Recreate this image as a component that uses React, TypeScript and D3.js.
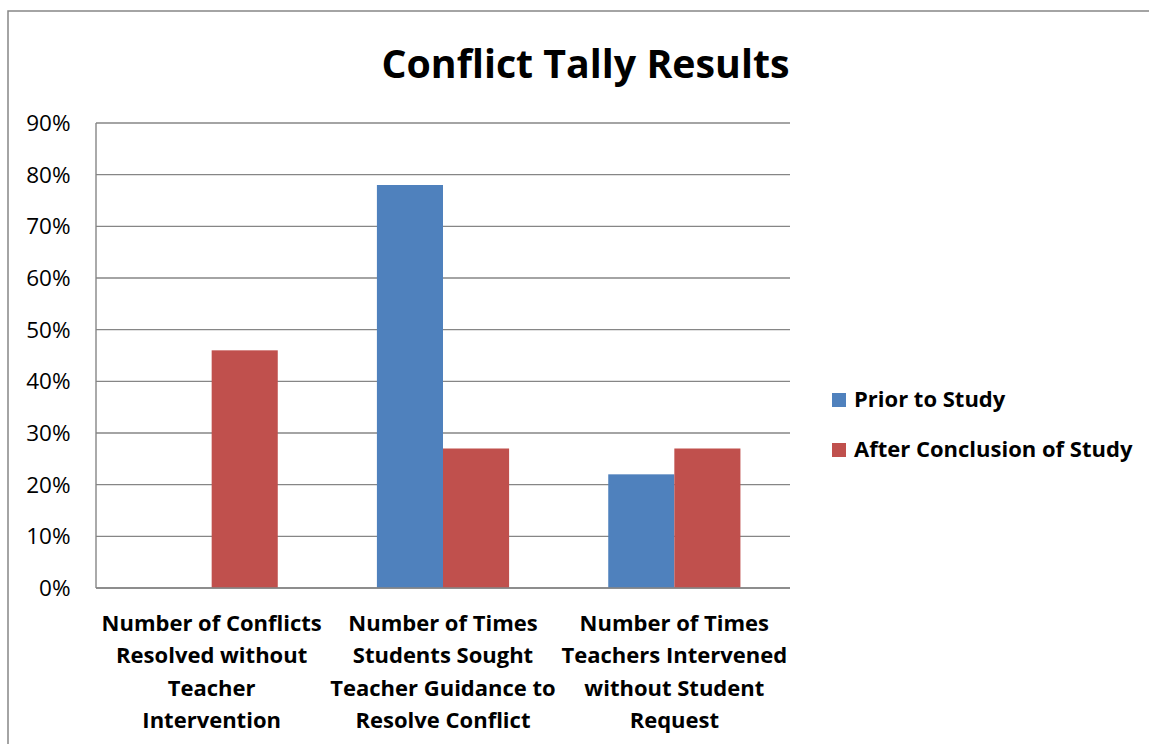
import React from "react";
import * as d3 from "d3";

const categories: string[][] = [
  ["Number of Conflicts", "Resolved without", "Teacher", "Intervention"],
  ["Number of Times", "Students Sought", "Teacher Guidance to", "Resolve Conflict"],
  ["Number of Times", "Teachers Intervened", "without Student", "Request"],
];
const seriesNames = ["Prior to Study", "After Conclusion of Study"];
const priorValues = [0, 0.78, 0.22];
const afterValues = [0.46, 0.27, 0.27];
const tickValues = [0, 0.1, 0.2, 0.3, 0.4, 0.5, 0.6, 0.7, 0.8, 0.9];
const colors = ["#4F81BD", "#C0504D"];

const W = 1149;
const H = 744;
const FONT = "'Open Sans', Lato, sans-serif";

export default function App() {
  const left = 96, right = 790, top = 123, bottom = 588;
  const y = d3.scaleLinear().domain([0, 0.9]).range([bottom, top]);
  const x0 = d3.scaleBand().domain(d3.range(categories.length).map(String)).range([left, right]).paddingInner(0).paddingOuter(0);
  const barFrac = 0.5714; // gap width 150%
  const x1 = d3.scaleBand().domain(seriesNames).range([0, x0.bandwidth() * barFrac]);
  const series = [priorValues, afterValues];
  const fmt = d3.format(".0%");
  const gridColor = "#868686";

  return (
    <svg width={W} height={H} style={{ position: "absolute", left: 0, top: 0, background: "#fff" }} fontFamily={FONT}>
      <rect x={8} y={11} width={W} height={H} fill="#fff" stroke={gridColor} strokeWidth={1.5} />
      <text x={585.5} y={78} textAnchor="middle" fontSize={39.3} fontWeight="bold" fill="#000">Conflict Tally Results</text>
      {tickValues.map((t) => (
        <g key={t}>
          <line x1={left} x2={right} y1={y(t)} y2={y(t)} stroke={gridColor} strokeWidth={1.4} />
          <text x={70.5} y={y(t) + 8} textAnchor="end" fontSize={22.5} fill="#000">{fmt(t)}</text>
        </g>
      ))}
      <line x1={left} x2={left} y1={top} y2={bottom} stroke={gridColor} strokeWidth={1.4} />
      {categories.map((cat, i) => {
        const bx = x0(String(i))!;
        const offset = (x0.bandwidth() * (1 - barFrac)) / 2;
        return (
          <g key={i}>
            {series.map((vals, s) => (
              <rect key={s} x={bx + offset + x1(seriesNames[s])!} y={y(vals[i])} width={x1.bandwidth()} height={bottom - y(vals[i])} fill={colors[s]} />
            ))}
            {cat.map((line, k) => (
              <text key={k} x={bx + x0.bandwidth() / 2} y={631 + k * 32.3} textAnchor="middle" fontSize={22} fontWeight="bold" fill="#000">{line}</text>
            ))}
          </g>
        );
      })}
      <line x1={left} x2={right} y1={bottom} y2={bottom} stroke={gridColor} strokeWidth={1.4} />
      {seriesNames.map((name, s) => (
        <g key={name}>
          <rect x={832} y={393 + s * 50} width={14} height={14} fill={colors[s]} />
          <text x={854} y={407 + s * 50} fontSize={22} fontWeight="bold" fill="#000">{name}</text>
        </g>
      ))}
    </svg>
  );
}
